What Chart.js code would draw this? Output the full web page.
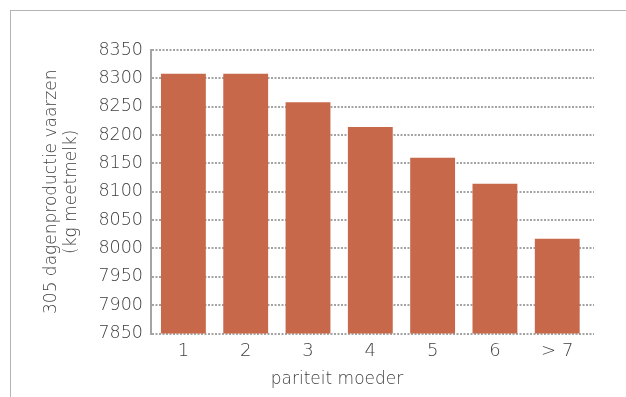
<!DOCTYPE html>
<html>
<head>
<meta charset="utf-8">
<script src="https://cdn.jsdelivr.net/npm/chart.js@4"></script>
<style>
  html, body { margin: 0; padding: 0; background: #fff; }
  #wrap { position: relative; width: 626px; height: 397px; overflow: hidden; }
  #frame { position: absolute; left: 10px; top: 10px; right: 0; bottom: 0;
           border-left: 1.5px solid #b4b4b4; border-top: 1.5px solid #b4b4b4; }
  #chart { position: absolute; left: 0; top: 0; }
</style>
</head>
<body>
<div id="wrap">
  <div id="frame"></div>
  <canvas id="chart" width="626" height="397"></canvas>
</div>
<script>
// Pariteit van de moeder en 305-dagenproductie van de vaarzen
const parities = ['1', '2', '3', '4', '5', '6', '> 7'];
const production = [8308, 8308, 8258, 8214, 8160, 8114, 8017];
const yTitle = ['305 dagenproductie vaarzen', '(kg meetmelk)'];
const xTitle = 'pariteit moeder';

const FONT = '"DejaVu Sans", sans-serif';
const TEXT = '#404040';
const GRID = '#a4a4a4';

// x-as titel, iets links van het midden geplaatst
const xTitlePlugin = {
  id: 'xTitle',
  afterDraw(chart) {
    const { ctx } = chart;
    ctx.save();
    ctx.font = '200 17px ' + FONT;
    ctx.fillStyle = TEXT;
    ctx.textAlign = 'center';
    ctx.textBaseline = 'alphabetic';
    ctx.fillText(xTitle, 337, 384);
    ctx.restore();
  }
};

new Chart(document.getElementById('chart'), {
  type: 'bar',
  data: {
    datasets: [{
      data: production.map((v, i) => ({ x: i, y: v })),
      backgroundColor: '#c8684a',
      borderWidth: 0
    }]
  },
  options: {
    responsive: false,
    devicePixelRatio: 1,
    animation: false,
    layout: { padding: { left: 0, top: 50, right: 32, bottom: 0 } },
    plugins: { legend: { display: false }, tooltip: { enabled: false } },
    scales: {
      x: {
        type: 'linear',
        offset: false,
        min: -0.52,
        max: 6.59,
        afterBuildTicks(scale) { scale.ticks = parities.map((_, i) => ({ value: i })); },
        afterFit(scale) { scale.height = 63.5; },
        grid: { display: false, offset: false },
        border: { display: false },
        ticks: {
          callback: (v) => parities[v],
          color: TEXT,
          font: { family: FONT, size: 18, weight: 200 },
          padding: -1,
          maxRotation: 0,
          autoSkip: false
        }
      },
      y: {
        min: 7850,
        max: 8350,
        afterFit(scale) { scale.width = 151; },
        grid: {
          color: GRID,
          lineWidth: 2,
          drawTicks: false
        },
        // stippellijnen voor raster en as
        border: { display: true, color: GRID, width: 2, dash: [2, 1.5] },
        ticks: {
          stepSize: 50,
          callback: (v) => String(v),
          color: TEXT,
          font: { family: FONT, size: 17.5, weight: 200 },
          padding: 8
        },
        title: {
          display: true,
          text: yTitle,
          color: TEXT,
          font: { family: FONT, size: 17, weight: 200, lineHeight: 20 / 17 },
          padding: { top: 42, bottom: 0 }
        }
      }
    }
  },
  plugins: [xTitlePlugin]
});
</script>
</body>
</html>
